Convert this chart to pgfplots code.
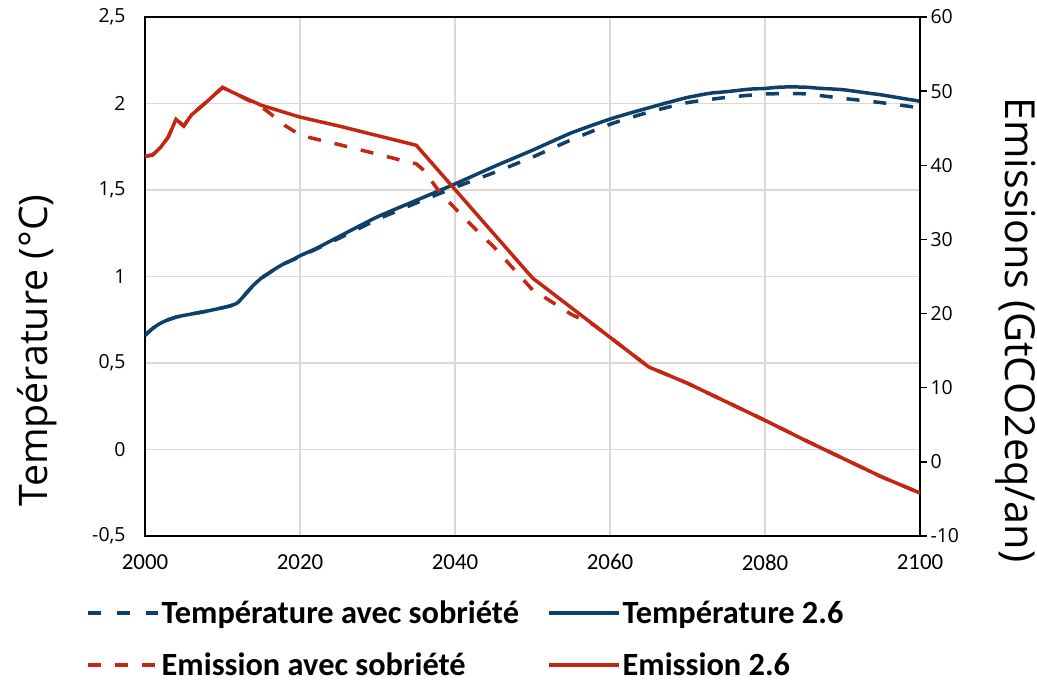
\documentclass[border=0pt]{standalone}
\usepackage{pgfplots}
\pgfplotsset{compat=1.18}
\usepackage{fontspec}
\setmainfont{Carlito}
\newfontfamily\osans{Open Sans}
\definecolor{tblue}{RGB}{14,64,106}
\definecolor{ered}{RGB}{196,38,18}
\definecolor{gridgray}{RGB}{217,217,217}

\pgfplotstableread{
year temp
2000 0.66
2001 0.70
2002 0.73
2003 0.75
2004 0.765
2005 0.775
2008 0.80
2011 0.83
2012 0.85
2013 0.90
2014 0.95
2015 0.99
2016 1.02
2017 1.05
2018 1.075
2019 1.095
2020 1.12
2022 1.16
2025 1.23
2030 1.345
2035 1.44
2040 1.535
2045 1.635
2050 1.73
2055 1.83
2060 1.91
2063 1.95
2065 1.975
2067 2.00
2070 2.035
2073 2.06
2075 2.068
2078 2.083
2080 2.087
2082 2.095
2085 2.095
2087 2.088
2090 2.08
2093 2.062
2095 2.05
2097 2.035
2100 2.013
}\tempref

\pgfplotstableread{
year temp
2000 0.66
2001 0.70
2002 0.73
2003 0.75
2004 0.765
2005 0.775
2008 0.80
2011 0.83
2012 0.85
2013 0.90
2014 0.95
2015 0.99
2016 1.02
2017 1.05
2018 1.075
2019 1.095
2020 1.115
2025 1.22
2030 1.33
2035 1.425
2040 1.515
2045 1.60
2050 1.69
2055 1.79
2060 1.88
2065 1.95
2070 2.005
2075 2.035
2080 2.055
2085 2.056
2090 2.03
2095 2.005
2100 1.975
}\tempsob

\pgfplotstableread{
year em
2000 41.2
2001 41.4
2002 42.4
2003 43.8
2004 46.2
2005 45.3
2006 46.8
2008 48.6
2010 50.5
2011 50.0
2012 49.5
2015 48.1
2020 46.5
2025 45.3
2030 44.0
2035 42.7
2050 24.8
2065 12.8
2070 10.6
2075 8.1
2080 5.6
2085 3.0
2090 0.5
2095 -2.0
2100 -4.2
}\emref

\pgfplotstableread{
year em
2000 41.2
2001 41.4
2002 42.4
2003 43.8
2004 46.2
2005 45.3
2006 46.8
2008 48.6
2010 50.5
2011 50.0
2012 49.5
2014 48.4
2015 47.9
2017 46.3
2018 45.4
2020 44.1
2021 43.8
2025 42.8
2030 41.5
2033 40.7
2035 40.2
2036 39.3
2038 36.4
2040 34.2
2043 31.0
2045 29.0
2050 23.2
2052 21.9
2055 19.9
2058 18.4
2065 12.8
2070 10.6
2075 8.1
2080 5.6
2085 3.0
2090 0.5
2095 -2.0
2100 -4.2
}\emsob

\begin{document}
\begin{tikzpicture}
\path[use as bounding box] (-145bp,-146bp) rectangle (892bp,536bp);
\begin{axis}[
  at={(0,0)}, anchor=south west, scale only axis,
  width=775bp, height=519bp,
  xmin=2000, xmax=2100, ymin=-0.5, ymax=2.5,
  xtick={2000,2020,2040,2060,2080,2100},
  xticklabels={2000,2020,2040,2060,2080,2100},
  ytick={-0.5,0,0.5,1,1.5,2,2.5},
  yticklabels={{-0,5},{0},{0,5},{1},{1,5},{2},{2,5}},
  grid=major, grid style={gridgray, line width=1.3bp},
  axis line style={black, line width=1.8bp},
  major tick length=0pt,
  xticklabel style={font=\fontsize{23}{23}\selectfont, yshift=-15bp},
  yticklabel style={font=\osans\fontsize{19.5}{19.5}\selectfont, xshift=-16bp},
  ylabel={Température (°C)},
  ylabel style={font=\osans\fontsize{39.5}{39.5}\selectfont, at={(axis description cs:-0.139,0.358)}, anchor=center},
]
\addplot[tblue, line width=3.5bp, dash pattern=on 13bp off 14bp, smooth, tension=0.3] table[x=year,y=temp]{\tempsob};
\addplot[tblue, line width=3.5bp, smooth, tension=0.3] table[x=year,y=temp]{\tempref};
\end{axis}
\begin{axis}[
  at={(0,0)}, anchor=south west, scale only axis,
  width=775bp, height=519bp,
  xmin=2000, xmax=2100, ymin=-10, ymax=60,
  axis x line=none, axis y line*=right,
  ytick={-10,0,10,20,30,40,50,60},
  yticklabels={-10,0,10,20,30,40,50,60},
  tick align=outside, major tick length=7bp,
  tick style={black, line width=1.5bp},
  axis line style={black, line width=1.8bp},
  yticklabel style={font=\osans\fontsize{19.5}{19.5}\selectfont},
  ylabel={Emissions (GtCO2eq/an)},
  ylabel style={font=\osans\fontsize{41.5}{41.5}\selectfont, at={(axis description cs:1.123,0.397)}, anchor=center, rotate=180},
  legend columns=2,
  legend cell align=left,
  legend image code/.code={\draw[#1] (0bp,0bp) -- (70bp,0bp);},
  legend style={at={(axis description cs:-0.08,-0.117)}, anchor=north west, draw=none, fill=none,
    font=\bfseries\fontsize{32.5}{32.5}\selectfont, row sep=24bp,
    /tikz/every even column/.append style={column sep=26bp}},
]
\addlegendimage{tblue, line width=3.5bp, dash pattern=on 13bp off 16bp}
\addlegendentry{Température avec sobriété}
\addlegendimage{tblue, line width=3.5bp}
\addlegendentry{Température 2.6}
\addplot[ered, line width=3.5bp, dash pattern=on 13bp off 14bp] table[x=year,y=em]{\emsob};
\addlegendentry{Emission avec sobriété}
\addplot[ered, line width=3.5bp] table[x=year,y=em]{\emref};
\addlegendentry{Emission 2.6}
\end{axis}
\end{tikzpicture}
\end{document}
